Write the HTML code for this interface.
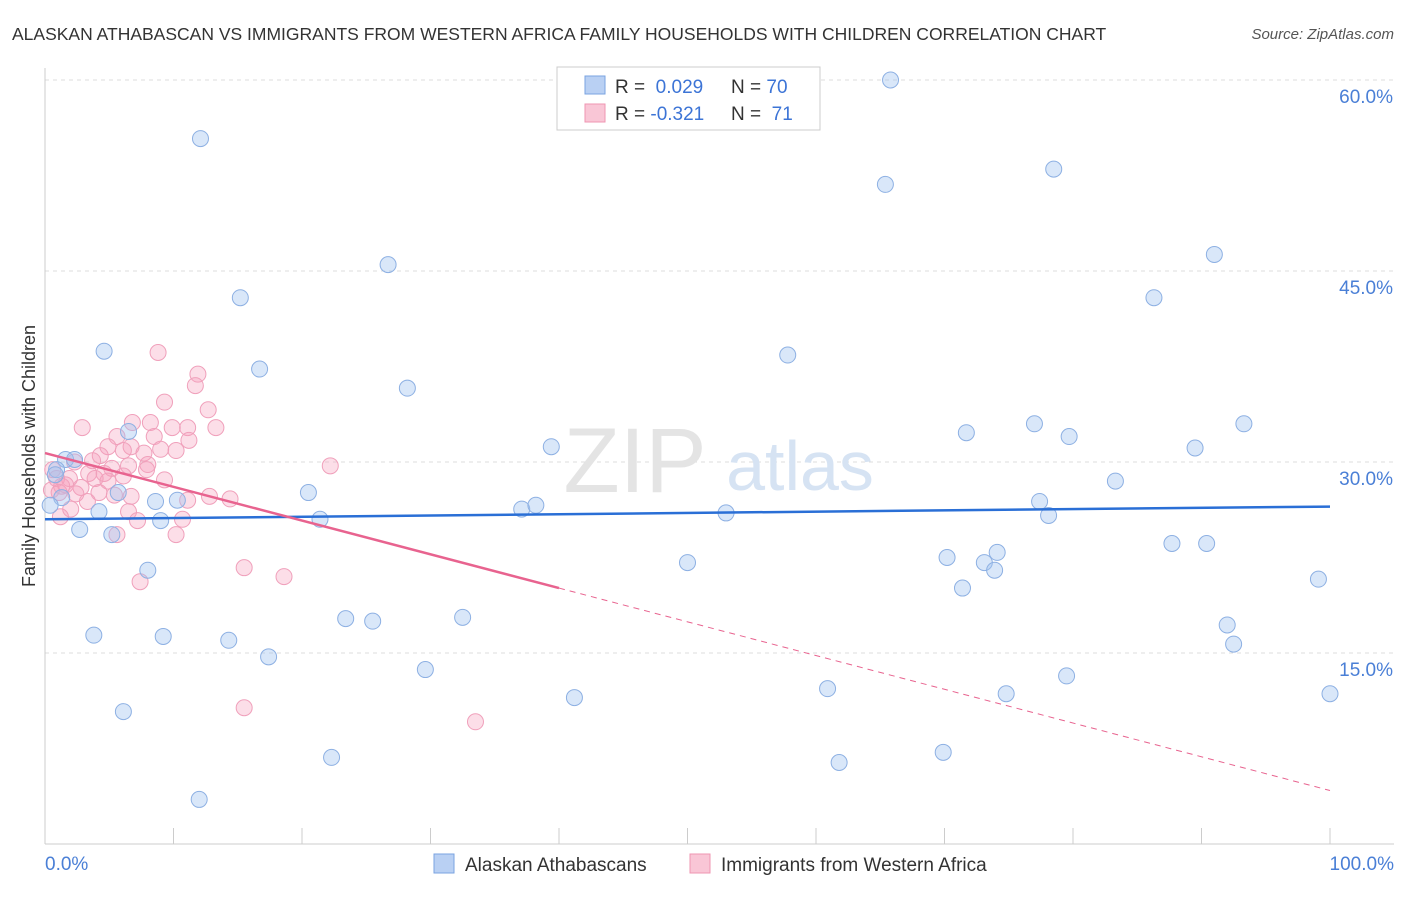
<!DOCTYPE html>
<html><head><meta charset="utf-8"><style>
body{margin:0;background:#fff;font-family:"Liberation Sans",sans-serif;}
svg text{font-family:"Liberation Sans",sans-serif;}
</style></head><body>
<svg width="1406" height="892">
<text x="12" y="40" font-size="17.5" fill="#333">ALASKAN ATHABASCAN VS IMMIGRANTS FROM WESTERN AFRICA FAMILY HOUSEHOLDS WITH CHILDREN CORRELATION CHART</text>
<text x="1394" y="39" font-size="15" fill="#555" font-style="italic" text-anchor="end">Source: ZipAtlas.com</text>
<g id="grid"></g>
<g><text x="635" y="492" font-size="92" fill="#e4e4e4" font-family="Liberation Serif" text-anchor="middle">ZIP</text><text x="800" y="490" font-size="70" fill="#d6e3f3" text-anchor="middle">atlas</text></g>
<text transform="translate(35,456) rotate(-90)" font-size="18" fill="#333" text-anchor="middle">Family Households with Children</text>
<text x="45" y="870" font-size="19" fill="#4a7fd6">0.0%</text>
<text x="1394" y="870" font-size="19" fill="#4a7fd6" text-anchor="end">100.0%</text>
<g id="points"></g>
<g id="trends"></g>
<g>
<rect x="557" y="67" width="263" height="63" fill="#fff" stroke="#ccc"/>
<rect x="585" y="76" width="20" height="18" fill="#b9d0f3" stroke="#7aa3e0"/>
<rect x="585" y="104" width="20" height="18" fill="#f9c6d6" stroke="#ef95b2"/>
<text x="615" y="93" font-size="19" fill="#333">R = <tspan fill="#3c74d6">&#160;0.029</tspan><tspan x="731">N = </tspan><tspan fill="#3c74d6">70</tspan></text>
<text x="615" y="120" font-size="19" fill="#333">R = <tspan fill="#3c74d6">-0.321</tspan><tspan x="731">N = </tspan><tspan fill="#3c74d6">&#160;71</tspan></text>
</g>
<g>
<rect x="434" y="854" width="20" height="19" fill="#b9d0f3" stroke="#7aa3e0"/>
<text x="465" y="871" font-size="19" fill="#333">Alaskan Athabascans</text>
<rect x="690" y="854" width="20" height="19" fill="#f9c6d6" stroke="#ef95b2"/>
<text x="721" y="871" font-size="19" fill="#333">Immigrants from Western Africa</text>
</g>
</svg>
<script>
const yTicks=[15,30,45,60];
const blueX=[12.1,65.8,65.4,78.5,26.7,15.2,91.0,86.3,4.6,16.7,57.8,28.2,71.7,77.0,79.7,93.3,39.4,89.5,6.5,1.6,2.3,0.9,1.3,20.5,5.7,8.6,10.3,4.2,9.0,21.4,37.1,38.2,53.0,77.4,78.1,83.3,2.7,5.2,70.2,74.1,73.1,73.9,50.0,87.7,90.4,8.0,71.4,99.1,23.4,25.5,32.5,92.0,92.5,3.8,9.2,14.3,17.4,29.6,79.5,60.9,41.2,74.8,100,6.1,69.9,22.3,61.8,12.0,0.4,0.8];
const blueY=[55.4,60.0,51.8,53.0,45.5,42.9,46.3,42.9,38.7,37.3,38.4,35.8,32.3,33.0,32.0,33.0,31.2,31.1,32.4,30.2,30.2,29.4,27.2,27.6,27.6,26.9,27.0,26.1,25.4,25.5,26.3,26.6,26.0,26.9,25.8,28.5,24.7,24.3,22.5,22.9,22.1,21.5,22.1,23.6,23.6,21.5,20.1,20.8,17.7,17.5,17.8,17.2,15.7,16.4,16.3,16.0,14.7,13.7,13.2,12.2,11.5,11.8,11.8,10.4,7.2,6.8,6.4,3.5,26.6,29.0];
const pinkX=[8.8,11.9,11.7,9.3,12.7,13.3,6.8,8.2,11.1,2.9,5.6,8.5,9.9,11.2,4.9,6.7,7.7,9.0,10.2,4.3,2.3,6.5,8.0,22.2,5.2,3.4,6.1,3.9,1.9,0.9,4.9,9.3,2.8,1.3,0.5,4.2,5.4,6.7,11.1,12.8,14.4,3.3,2.0,1.2,6.5,7.2,10.7,5.6,10.2,15.5,18.6,7.4,15.5,33.5,1.6,0.6,4.6,6.1,7.9,1.1,3.7,2.4];
const pinkY=[38.6,36.9,36.0,34.7,34.1,32.7,33.1,33.1,32.7,32.7,32.0,32.0,32.7,31.7,31.2,31.2,30.7,31.0,30.9,30.5,30.0,29.7,29.8,29.7,29.5,29.1,28.9,28.7,28.7,28.7,28.5,28.6,28.0,28.1,27.8,27.6,27.4,27.3,27.0,27.3,27.1,26.9,26.3,25.7,26.1,25.4,25.5,24.3,24.3,21.7,21.0,20.6,10.7,9.6,28.2,29.4,29.1,30.9,29.4,27.6,30.1,27.5];
const blueTrend=[25.5,26.5];
const pinkTrend=[30.7,4.2];
const pinkSolidEnd=40;
const NS="http://www.w3.org/2000/svg";
const sx=v=>45+v*12.85;
const sy=v=>844-v*191/15;
function mk(t,a,p){const e=document.createElementNS(NS,t);for(const k in a)e.setAttribute(k,a[k]);p.appendChild(e);return e;}
const grid=document.getElementById('grid');
yTicks.forEach(t=>{
 const l=mk('line',{x1:45,x2:1394,y1:sy(t),y2:sy(t),stroke:'#ddd','stroke-dasharray':'4,4'},grid);
 
 
 const tx=mk('text',{x:1393,y:sy(t)+23,'font-size':19,fill:'#4a7fd6','text-anchor':'end'},grid);
 tx.textContent=t.toFixed(1)+'%';
 
 
});
mk('line',{x1:45,x2:45,y1:68,y2:844,stroke:'#ccc'},grid);
mk('line',{x1:45,x2:1394,y1:844,y2:844,stroke:'#ccc'},grid);
for(let i=0;i<=10;i++){
 const tk=mk('line',{x1:sx(i*10),x2:sx(i*10),y1:828,y2:844,stroke:'#ccc'},grid);
 
 
}
const pts=document.getElementById('points');
pinkX.forEach((x,i)=>{
 const c=mk('circle',{cx:sx(x),cy:sy(pinkY[i]),r:8,fill:'rgba(245,160,190,0.35)',stroke:'#f0a0bb','stroke-width':1},pts);
 
 
});
blueX.forEach((x,i)=>{
 const c=mk('circle',{cx:sx(x),cy:sy(blueY[i]),r:8,fill:'rgba(160,195,240,0.4)',stroke:'#8db0e3','stroke-width':1},pts);
 
 
});
const tr=document.getElementById('trends');
const pf=x=>pinkTrend[0]+(pinkTrend[1]-pinkTrend[0])*x/100;
const bl=mk('line',{x1:sx(0),y1:sy(blueTrend[0]),x2:sx(100),y2:sy(blueTrend[1]),stroke:'#2a6fd6','stroke-width':2.5},tr);


const p1=mk('line',{x1:sx(0),y1:sy(pf(0)),x2:sx(pinkSolidEnd),y2:sy(pf(pinkSolidEnd)),stroke:'#e8638f','stroke-width':2.5},tr);


const p2=mk('line',{x1:sx(pinkSolidEnd),y1:sy(pf(pinkSolidEnd)),x2:sx(100),y2:sy(pf(100)),stroke:'#e8638f','stroke-width':1,'stroke-dasharray':'6,5'},tr);


</script>
</body></html>
